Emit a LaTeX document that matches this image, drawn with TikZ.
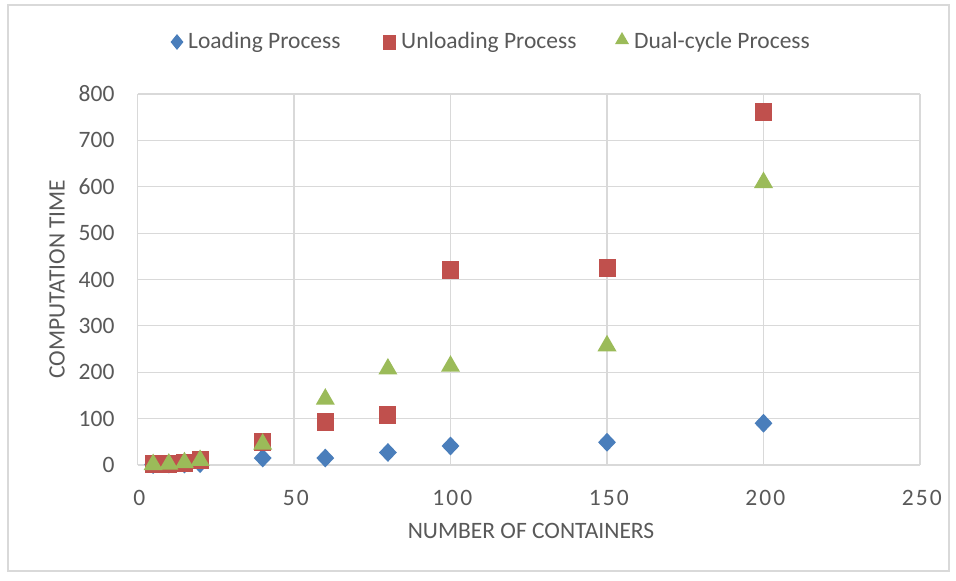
\documentclass[tikz,border=0pt]{standalone}
\usepackage{fontspec}
\setmainfont{Carlito}
\usetikzlibrary{shapes.geometric}
\definecolor{txt}{HTML}{595959}
\definecolor{gridc}{HTML}{D9D9D9}
\definecolor{frame}{HTML}{D9D9D9}
\definecolor{blu}{HTML}{4A7EBB}
\definecolor{rd}{HTML}{C0504D}
\definecolor{grn}{HTML}{9BBB59}
\newfontfamily\spaced[LetterSpace=9]{Carlito}
\tikzset{
  gridline/.style={draw=gridc, line width=1.2pt},
  dia/.style={diamond, aspect=1, fill=blu, inner sep=0pt, minimum width=18pt, minimum height=19pt},
  sq/.style={rectangle, fill=rd, inner sep=0pt, minimum width=17pt, minimum height=18pt},
  tri/.style={regular polygon, regular polygon sides=3, fill=grn, inner sep=0pt, minimum size=22pt},
  ldia/.style={diamond, aspect=1, fill=blu, inner sep=0pt, minimum width=13pt, minimum height=16pt},
  lsq/.style={rectangle, fill=rd, inner sep=0pt, minimum width=13pt, minimum height=15pt},
  ltri/.style={regular polygon, regular polygon sides=3, fill=grn, inner sep=0pt, minimum size=16pt},
  lab/.style={text=txt, font=\fontsize{23.5}{27}\selectfont, inner sep=0pt},
  xlab/.style={text=txt, font=\fontsize{23.5}{27}\selectfont\spaced, inner sep=0pt},
}
\begin{document}
\begin{tikzpicture}[x=1pt,y=-1pt]
\useasboundingbox (0,0) rectangle (956,581);
\fill[white] (0,0) rectangle (956,581);
\draw[frame, line width=1.3pt] (8,5) rectangle (949,571);
% plot area in pixel coordinates
\begin{scope}[shift={(137.5pt,-465pt)}, x=3.13pt, y=0.4638pt]
  \foreach \v in {100,200,...,800} \draw[gridline] (0,\v) -- (250,\v);
  \foreach \v in {0,50,...,250} \draw[gridline] (\v,0) -- (\v,800);
  \draw[gridline] (0,0) -- (250,0);
  \foreach \v in {0,100,...,800} \node[lab, anchor=east] (yt\v) at (-7.3,\v) {\v};
  \foreach \v in {0,50,...,250} \node[xlab] (xt\v) at (\v+0.6,-70) {\v};
  % loading
  \foreach \px/\py [count=\i] in {5/1,10/2,15/2,20/3,40/15,60/15,80/27,100/41,150/49,200/90}
    \node[dia] (l\i) at (\px,\py) {};
  % unloading
  \foreach \px/\py [count=\i] in {5/3,10/3,15/5,20/10,40/50,60/92,80/107,100/420,150/424,200/761}
    \node[sq] (u\i) at (\px,\py) {};
  % dual
  \foreach \px/\py [count=\i] in {5/1,10/2,15/5,20/10,40/45,60/142,80/207,100/213,150/257,200/609}
    \node[tri] (d\i) at (\px,\py) {};
\end{scope}
\node[lab, rotate=90] (ytitle) at (57,279) {COMPUTATION TIME};
\node[lab] (xtitle) at (531,531) {NUMBER OF CONTAINERS};
% legend
\node[ldia] (lg1) at (177,42) {};
\node[lab, anchor=west] (lt1) at (188,42) {Loading Process};
\node[lsq] (lg2) at (389,42) {};
\node[lab, anchor=west] (lt2) at (401,42) {Unloading Process};
\node[ltri] (lg3) at (622,40) {};
\node[lab, anchor=west] (lt3) at (634,42) {Dual-cycle Process};
\end{tikzpicture}
\end{document}
